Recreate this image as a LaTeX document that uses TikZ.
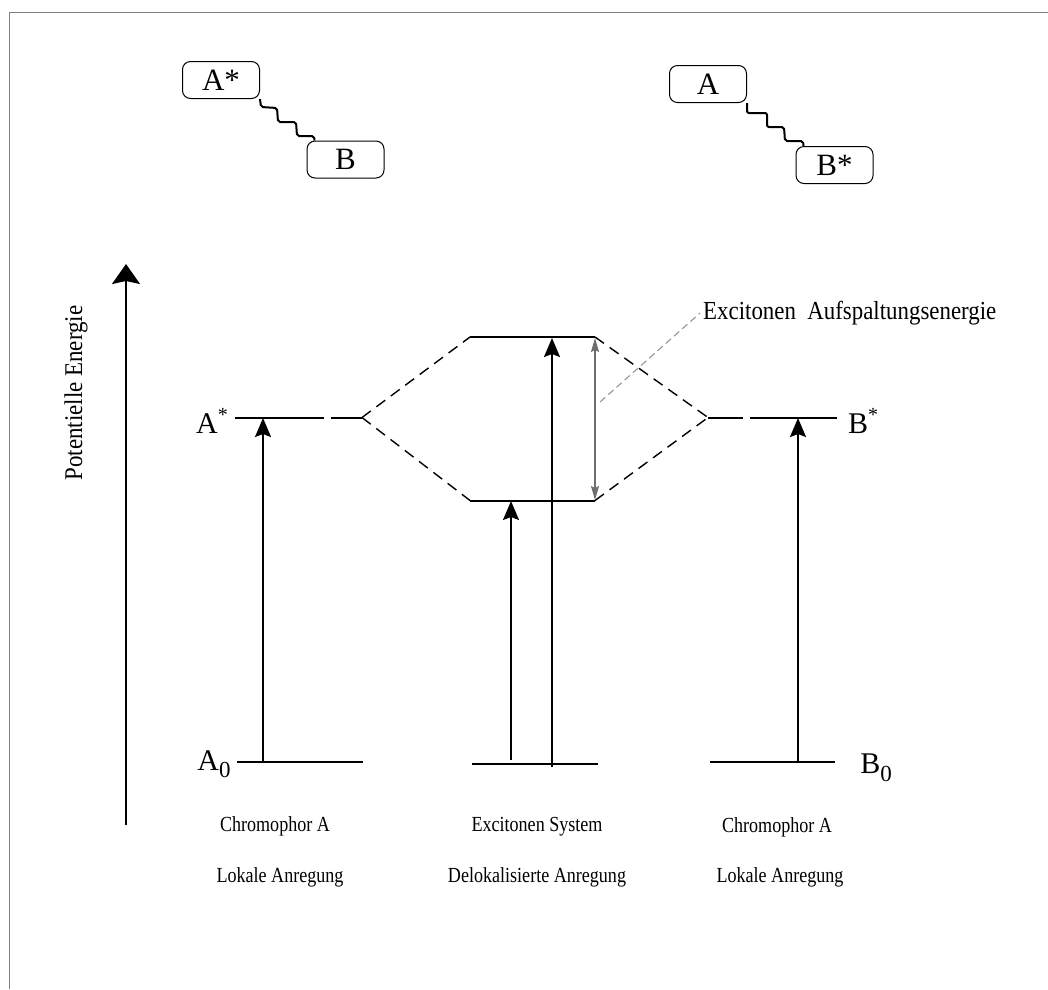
\documentclass[tikz,border=0pt]{standalone}
\usepackage{fontspec}
\setmainfont{Liberation Serif}
\newfontfamily\botfont{Liberation Serif}[FakeStretch=0.84]
\newfontfamily\splitfont{Liberation Serif}[FakeStretch=0.88]
\newfontfamily\axfont{Liberation Serif}[FakeStretch=0.9]
\usetikzlibrary{arrows.meta}
\definecolor{framegray}{RGB}{128,128,128}
\definecolor{splitgray}{RGB}{110,110,110}
\definecolor{leadgray}{RGB}{150,150,150}
\begin{document}
\begin{tikzpicture}[x=1pt,y=-1pt,
  lvl/.style={line width=2pt},
  uparrow/.style={line width=1.8pt,-{Stealth[length=19pt,width=16pt,inset=3pt]}},
  axarrow/.style={line width=1.8pt,-{Stealth[length=20pt,width=28pt,inset=3pt]}},
  dsh/.style={line width=1.4pt,dash pattern=on 11pt off 7pt},
  molbox/.style={draw,line width=1pt,rounded corners=8pt,minimum width=77pt,minimum height=37pt,font=\fontsize{31}{31}\selectfont,inner sep=0pt},
  stair/.style={line width=2pt,rounded corners=2pt},
  lab/.style={font=\botfont\fontsize{21.5}{21.5}\selectfont,inner sep=0pt},
  biglab/.style={font=\fontsize{30}{30}\selectfont,inner sep=0pt},
  axlabel/.style={font=\axfont\fontsize{25.5}{25.5}\selectfont,inner sep=0pt},
  splitlab/.style={font=\splitfont\fontsize{26}{26}\selectfont,inner sep=0pt}
]
\useasboundingbox (0,0) rectangle (1048,989);
% frame
\draw[framegray,line width=1pt] (9,989) -- (9,12) -- (1048,12);

% molecule boxes
\node[molbox] (bA1) at (221,80) {A*};
\node[molbox] (bB1) at (345.5,159.5) {B};
\node[molbox] (bA2) at (708,84) {A};
\node[molbox] (bB2) at (834.5,165) {B*};
\draw[stair] (bA1.south east) -- ++(1,8) -- ++(16,1) -- ++(1,14) -- ++(18,0) -- ++(1,14) -- ++(17,0) -- ([xshift=8pt]bB1.north west);
\draw[stair] (bA2.south east) -- ++(0,10) -- ++(20,0) -- ++(0,14) -- ++(17,0) -- ++(1,14) -- ++(18,0) -- ([xshift=8pt]bB2.north west);

% energy axis
\coordinate (ax0) at (126,825);
\coordinate (ax1) at (126,264);
\draw[axarrow] (ax0) -- (ax1);
\node[axlabel,rotate=90] (axlab) at (76,393) {Potentielle Energie};

% levels
\coordinate (a0l) at (237,762); \coordinate (a0r) at (363,762);
\coordinate (asl) at (235,417.5); \coordinate (asr) at (324,417.5);
\coordinate (asl2) at (331,417.5); \coordinate (asd) at (362,417.5);
\coordinate (eu1) at (470,337); \coordinate (eu2) at (595,337);
\coordinate (el1) at (470,500.5); \coordinate (el2) at (595,500.5);
\coordinate (m0l) at (472,763.5); \coordinate (m0r) at (598,763.5);
\coordinate (bsd) at (708,417.5); \coordinate (bs1) at (743,417.5);
\coordinate (bs2) at (750,417.5); \coordinate (bs3) at (837,417.5);
\coordinate (b0l) at (710,762); \coordinate (b0r) at (835,762);

\draw[lvl] (a0l) -- (a0r);
\draw[lvl] (asl) -- (asr);
\draw[lvl] (asl2) -- (asd);
\draw[lvl] (eu1) -- (eu2);
\draw[lvl] (el1) -- (el2);
\draw[lvl] (m0l) -- (m0r);
\draw[lvl] (bsd) -- (bs1);
\draw[lvl] (bs2) -- (bs3);
\draw[lvl] (b0l) -- (b0r);

% dashed correlation lines
\draw[dsh] (asd) -- (eu1);
\draw[dsh] (asd) -- (el1);
\draw[dsh] (eu2) -- (bsd);
\draw[dsh] (el2) -- (bsd);

% excitation arrows
\coordinate (ar1s) at (263,762); \coordinate (ar1e) at (263,418);
\coordinate (ar2s) at (511,760); \coordinate (ar2e) at (511,501);
\coordinate (ar3s) at (552,767); \coordinate (ar3e) at (552,338);
\coordinate (ar4s) at (798,762); \coordinate (ar4e) at (798,418);
\draw[uparrow] (ar1s) -- (ar1e);
\draw[uparrow] (ar2s) -- (ar2e);
\draw[uparrow] (ar3s) -- (ar3e);
\draw[uparrow] (ar4s) -- (ar4e);

% splitting
\coordinate (sp1) at (595,338); \coordinate (sp2) at (595,500);
\draw[splitgray,line width=1.6pt,{Stealth[length=14pt,width=8pt,inset=2pt]}-{Stealth[length=14pt,width=8pt,inset=2pt]}] (sp1) -- (sp2);
\node[splitlab,anchor=west] (split) at (703,313) {Excitonen\ \ Aufspaltungsenergie};
\coordinate (ld0) at (600,402);
\draw[leadgray,line width=1.1pt,dash pattern=on 7pt off 4pt] (ld0) -- ([xshift=-3pt]split.west);

% level labels
\node[biglab] (lA0) at (214,764) {A\raisebox{-0.25em}{\fontsize{23}{23}\selectfont 0}};
\node[biglab] (lAs) at (212,421) {A\raisebox{0.42em}{\fontsize{20}{20}\selectfont *}};
\node[biglab] (lBs) at (863,421) {B\raisebox{0.42em}{\fontsize{20}{20}\selectfont *}};
\node[biglab] (lB0) at (876,768) {B\raisebox{-0.25em}{\fontsize{23}{23}\selectfont 0}};

% bottom labels
\node[lab] (c1) at (275,826) {Chromophor A};
\node[lab] (c2) at (280,877) {Lokale Anregung};
\node[lab] (c3) at (537,827) {Excitonen System};
\node[lab] (c4) at (537,877) {Delokalisierte Anregung};
\node[lab] (c5) at (777,827) {Chromophor A};
\node[lab] (c6) at (780,877) {Lokale Anregung};
\end{tikzpicture}
\end{document}
